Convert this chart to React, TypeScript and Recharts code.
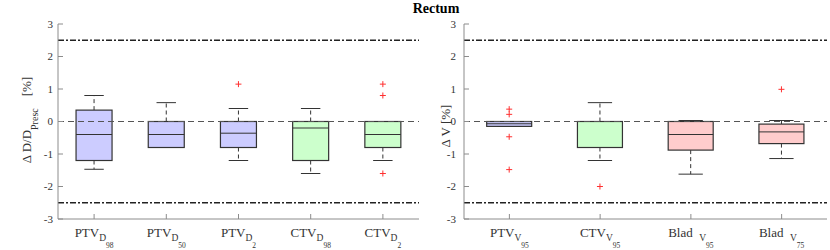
import React from 'react';
import { ComposedChart, Bar, XAxis, YAxis, ReferenceLine, Label } from 'recharts';

// ---------- shared axis data ----------
const yTicks = [-3, -2, -1, 0, 1, 2, 3];
const limitLines = [-2.5, 2.5];
const zeroLine = 0;

// ---------- left panel: dose metrics ----------
const doseNames = ['PTV_D98', 'PTV_D50', 'PTV_D2', 'CTV_D98', 'CTV_D2'];
const doseMain = ['PTV', 'PTV', 'PTV', 'CTV', 'CTV'];
const doseSub = ['D', 'D', 'D', 'D', 'D'];
const doseSubSub = ['98', '50', '2', '98', '2'];
const doseGroup = ['PTV', 'PTV', 'PTV', 'CTV', 'CTV'];
const doseLowWhisker = [-1.47, -0.8, -1.2, -1.6, -1.2];
const doseQ1 = [-1.2, -0.8, -0.8, -1.2, -0.8];
const doseMedian = [-0.4, -0.4, -0.36, -0.2, -0.4];
const doseQ3 = [0.35, 0, 0, 0, 0];
const doseHighWhisker = [0.8, 0.58, 0.4, 0.4, 0];
const doseOutliers = [[], [], [1.15], [], [1.15, 0.8, -1.6]];

// ---------- right panel: volume metrics ----------
const volNames = ['PTV_V95', 'CTV_V95', 'Blad_V95', 'Blad_V75'];
const volMain = ['PTV', 'CTV', 'Blad\u00a0\u00a0', 'Blad\u00a0\u00a0'];
const volSub = ['V', 'V', 'V', 'V'];
const volSubSub = ['95', '95', '95', '75'];
const volGroup = ['PTV', 'CTV', 'Blad', 'Blad'];
const volLowWhisker = [-0.15, -1.2, -1.62, -1.14];
const volQ1 = [-0.15, -0.8, -0.88, -0.68];
const volMedian = [-0.07, 0, -0.4, -0.32];
const volQ3 = [0, 0, 0, -0.08];
const volHighWhisker = [0, 0.58, 0.03, 0.03];
const volOutliers = [[0.38, 0.22, -0.47, -1.48], [-2.0], [], [0.99]];

// ---------- styles ----------
const groupFill: Record<string, string> = { PTV: '#ccccff', CTV: '#ccffcc', Blad: '#ffcccc' };
const FONT = 'Liberation Serif, Times New Roman, serif';
const AXIS_COLOR = '#8c8c8c';
const TEXT_COLOR = '#333333';
const Y_MIN = yTicks[0];
const Y_MAX = yTicks[yTicks.length - 1];

function buildRows(names: string[], group: string[], lo: number[], q1: number[], med: number[], q3: number[], hi: number[], out: number[][]) {
  return names.map((name, i) => ({
    name,
    group: group[i],
    lo: lo[i],
    q1: q1[i],
    med: med[i],
    q3: q3[i],
    hi: hi[i],
    outliers: out[i],
  }));
}

const doseRows = buildRows(doseNames, doseGroup, doseLowWhisker, doseQ1, doseMedian, doseQ3, doseHighWhisker, doseOutliers);
const volRows = buildRows(volNames, volGroup, volLowWhisker, volQ1, volMedian, volQ3, volHighWhisker, volOutliers);

const fullRange = () => [Y_MIN, Y_MAX];

const BoxShape = (props: any) => {
  const { x, y, width, height, payload } = props;
  const top = Math.min(y, y + height);
  const h = Math.abs(height);
  const py = (v: number) => top + ((Y_MAX - v) / (Y_MAX - Y_MIN)) * h;
  const cx = x + width / 2;
  const capHalf = width * 0.27;
  const yq1 = py(payload.q1);
  const yq3 = py(payload.q3);
  const ylo = py(payload.lo);
  const yhi = py(payload.hi);
  const ymed = py(payload.med);
  const edge = '#333333';
  return (
    <g>
      {yhi < yq3 - 0.5 && (
        <line x1={cx} x2={cx} y1={yq3} y2={yhi} stroke={edge} strokeWidth={1} strokeDasharray="4 3" />
      )}
      {ylo > yq1 + 0.5 && (
        <line x1={cx} x2={cx} y1={yq1} y2={ylo} stroke={edge} strokeWidth={1} strokeDasharray="4 3" />
      )}
      <line x1={cx - capHalf} x2={cx + capHalf} y1={yhi} y2={yhi} stroke={edge} strokeWidth={1} />
      <line x1={cx - capHalf} x2={cx + capHalf} y1={ylo} y2={ylo} stroke={edge} strokeWidth={1} />
      <rect x={x} y={yq3} width={width} height={Math.max(yq1 - yq3, 1)} fill={groupFill[payload.group]} stroke={edge} strokeWidth={1.2} />
      <line x1={x} x2={x + width} y1={ymed} y2={ymed} stroke={edge} strokeWidth={1} />
      {payload.outliers.map((v: number, k: number) => {
        const oy = py(v);
        return (
          <g key={k}>
            <line x1={cx - 3} x2={cx + 3} y1={oy} y2={oy} stroke="#ff3030" strokeWidth={1} />
            <line x1={cx} x2={cx} y1={oy - 3} y2={oy + 3} stroke="#ff3030" strokeWidth={1} />
          </g>
        );
      })}
    </g>
  );
};

const makeXTick = (mains: string[], subs: string[], subsubs: string[]) => (props: any) => {
  const { x, y, index } = props;
  return (
    <text x={x} y={y + 18} textAnchor="middle" style={{ fontFamily: FONT }} fontSize={13} fill={TEXT_COLOR}>
      <tspan>{mains[index]}</tspan>
      <tspan dy={4} fontSize={9.5}>{subs[index]}</tspan>
      <tspan dy={7} fontSize={7.5}>{subsubs[index]}</tspan>
    </text>
  );
};

const yTickStyle = { fontSize: 11, fill: TEXT_COLOR, style: { fontFamily: FONT } };

const LeftYLabel = () => (
  <text transform="translate(31,120) rotate(-90)" textAnchor="middle" style={{ fontFamily: FONT }} fontSize={13} fill={TEXT_COLOR}>
    <tspan>Δ D/D</tspan>
    <tspan dy={7} fontSize={10}>Presc</tspan>
    <tspan dy={-7} dx={12}>[%]</tspan>
  </text>
);

const RightYLabel = () => (
  <text transform="translate(30,126) rotate(-90)" textAnchor="middle" style={{ fontFamily: FONT }} fontSize={13} fill={TEXT_COLOR}>
    Δ V [%]
  </text>
);

type PanelProps = {
  rows: any[];
  width: number;
  yAxisWidth: number;
  tickMargin: number;
  rightMargin: number;
  tick: (p: any) => any;
  label: () => any;
};

const Panel = ({ rows, width, yAxisWidth, tickMargin, rightMargin, tick, label }: PanelProps) => (
  <ComposedChart
    width={width}
    height={250}
    data={rows}
    margin={{ top: 24, right: rightMargin, bottom: 0, left: 0 }}
    barCategoryGap="25%"
    style={{ fontFamily: FONT }}
  >
    <XAxis
      dataKey="name"
      height={31}
      interval={0}
      tick={tick}
      tickSize={-5}
      tickMargin={5}
      stroke={AXIS_COLOR}
      axisLine={{ stroke: AXIS_COLOR }}
      tickLine={{ stroke: AXIS_COLOR }}
    />
    <XAxis
      xAxisId="top"
      dataKey="name"
      orientation="top"
      height={0}
      interval={0}
      tick={false}
      tickSize={-5}
      axisLine={{ stroke: AXIS_COLOR }}
      tickLine={{ stroke: AXIS_COLOR }}
    />
    <YAxis
      type="number"
      domain={[Y_MIN, Y_MAX]}
      ticks={yTicks}
      interval={0}
      width={yAxisWidth}
      tickSize={-5}
      tickMargin={tickMargin}
      tick={yTickStyle}
      axisLine={{ stroke: AXIS_COLOR }}
      tickLine={{ stroke: AXIS_COLOR }}
      allowDataOverflow
    >
      <Label content={label} />
    </YAxis>
    <YAxis
      yAxisId="right"
      orientation="right"
      type="number"
      domain={[Y_MIN, Y_MAX]}
      ticks={yTicks}
      interval={0}
      width={0}
      tick={false}
      tickSize={-5}
      axisLine={{ stroke: AXIS_COLOR }}
      tickLine={{ stroke: AXIS_COLOR }}
      allowDataOverflow
    />
    <ReferenceLine y={zeroLine} stroke="#555555" strokeWidth={1} strokeDasharray="6 4" />
    {limitLines.map((v) => (
      <ReferenceLine key={v} y={v} stroke="#222222" strokeWidth={1.4} strokeDasharray="6 2 2 2" />
    ))}
    <Bar dataKey={fullRange} shape={BoxShape} isAnimationActive={false} />
  </ComposedChart>
);

export default function App() {
  return (
    <div style={{ position: 'fixed', left: 0, top: 0, width: 830, height: 250, background: '#ffffff', fontFamily: FONT }}>
      <div style={{ position: 'absolute', left: 0, top: 0 }}>
        <Panel
          rows={doseRows}
          width={420}
          yAxisWidth={58}
          tickMargin={10}
          rightMargin={1}
          tick={makeXTick(doseMain, doseSub, doseSubSub)}
          label={LeftYLabel}
        />
      </div>
      <div style={{ position: 'absolute', left: 420, top: 0 }}>
        <Panel
          rows={volRows}
          width={410}
          yAxisWidth={44}
          tickMargin={13}
          rightMargin={3}
          tick={makeXTick(volMain, volSub, volSubSub)}
          label={RightYLabel}
        />
      </div>
      <svg width={830} height={20} style={{ position: 'absolute', left: 0, top: 0 }}>
        <text x={436} y={13} textAnchor="middle" style={{ fontFamily: FONT }} fontSize={14} fontWeight="bold" fill="#000000">
          Rectum
        </text>
      </svg>
    </div>
  );
}
